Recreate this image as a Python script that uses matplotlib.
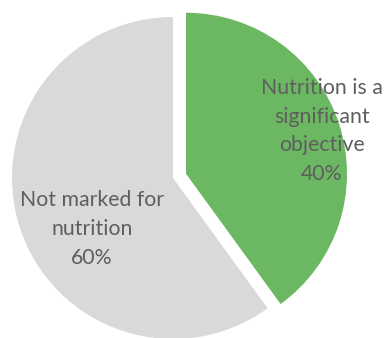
import matplotlib
matplotlib.use("Agg")
import matplotlib.pyplot as plt

labels = ["Nutrition is a\nsignificant\nobjective", "Not marked for\nnutrition"]
shares = [40, 60]
colors = ["#6cb862", "#d9d9d9"]
explode = [0.085, 0]
# where each label sits, in data units around the pie centre
label_pos = [(0.925, 0.292), (-0.503, -0.317)]

plt.rcParams['font.family'] = ['Lato', 'DejaVu Sans']

fig = plt.figure(figsize=(3.84, 3.38), dpi=100)
ax = fig.add_axes([0, 0, 1, 1])

ax.pie(shares, colors=colors, explode=explode, startangle=90,
       counterclock=False, radius=1.0,
       wedgeprops=dict(linewidth=0))

for lab, val, (x, y) in zip(labels, shares, label_pos):
    ax.text(x, y, f"{lab}\n{val}%", ha="center", va="center",
            fontsize=15.3, color="#5e5e5e", linespacing=1.55)

ax.set_xlim(-1.0745, 1.3106)
ax.set_ylim(-0.9938, 1.1056)
ax.set_aspect("auto")
ax.axis("off")

fig.savefig("out.png", dpi=100)
